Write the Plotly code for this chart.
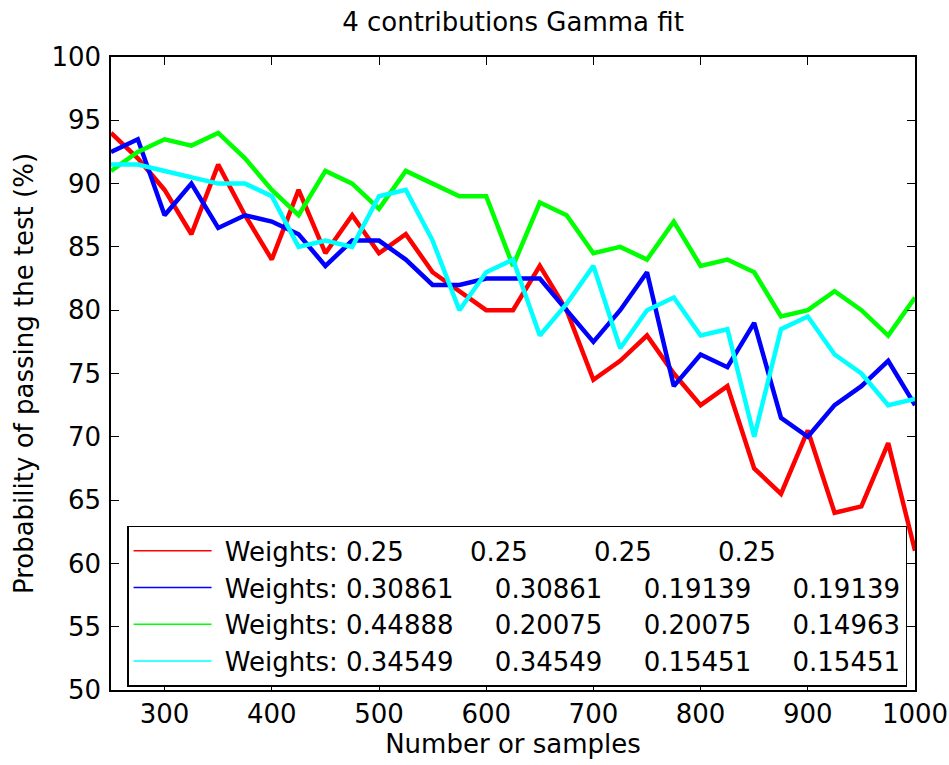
import plotly.graph_objects as go

samples = [250, 275, 300, 325, 350, 375, 400, 425, 450, 475, 500, 525, 550, 575, 600,
           625, 650, 675, 700, 725, 750, 775, 800, 825, 850, 875, 900, 925, 950, 975, 1000]

red = [94, 92, 89.5, 86, 91.5, 87.5, 84, 89.5, 84.5, 87.5, 84.5, 86, 83, 81.5, 80, 80,
       83.5, 80, 74.5, 76, 78, 75, 72.5, 74, 67.5, 65.5, 70.5, 64, 64.5, 69.5, 61]
blue = [92.5, 93.5, 87.5, 90, 86.5, 87.5, 87, 86, 83.5, 85.5, 85.5, 84, 82, 82, 82.5, 82.5,
        82.5, 80, 77.5, 80, 83, 74, 76.5, 75.5, 79, 71.5, 70, 72.5, 74, 76, 72.5]
green = [91, 92.5, 93.5, 93, 94, 92, 89.5, 87.5, 91, 90, 88, 91, 90, 89, 89, 83.5,
         88.5, 87.5, 84.5, 85, 84, 87, 83.5, 84, 83, 79.5, 80, 81.5, 80, 78, 81]
cyan = [91.5, 91.5, 91, 90.5, 90, 90, 89, 85, 85.5, 85, 89, 89.5, 85.5, 80, 83, 84,
        78, 80.5, 83.5, 77, 80, 81, 78, 78.5, 70, 78.5, 79.5, 76.5, 75, 72.5, 73]

weights = [
    ["0.25", "0.25", "0.25", "0.25"],
    ["0.30861", "0.30861", "0.19139", "0.19139"],
    ["0.44888", "0.20075", "0.20075", "0.14963"],
    ["0.34549", "0.34549", "0.15451", "0.15451"],
]
series = [red, blue, green, cyan]
colors = ["#FF0000", "#0000FF", "#00FF00", "#00FFFF"]

x_ticks = [300, 400, 500, 600, 700, 800, 900, 1000]
y_ticks = [50, 55, 60, 65, 70, 75, 80, 85, 90, 95, 100]

FONT = "DejaVu Sans"
FS = 26
NB = "\u00a0"


def label(ws):
    gap = NB * (8 if len(ws[0]) == 4 else 5)
    return NB + "Weights:" + NB + ws[0] + gap + ws[1] + gap + ws[2] + gap + ws[3]


fig = go.Figure()
for ys, c in zip(series, colors):
    fig.add_trace(go.Scatter(x=samples, y=ys, mode="lines",
                             line=dict(color=c, width=4.5), showlegend=False))
for ws, c in zip(weights, colors):
    fig.add_trace(go.Scatter(x=[None], y=[None], mode="lines",
                             line=dict(color=c, width=1.5), name=label(ws)))

axis_common = dict(showline=True, linecolor="black", linewidth=1.5, mirror="allticks",
                   ticks="inside", ticklen=8, tickcolor="black", tickwidth=1,
                   showgrid=False, zeroline=False, automargin=False,
                   tickfont=dict(family=FONT, size=FS, color="black"))

fig.update_layout(
    width=949, height=765,
    margin=dict(l=111, r=34, t=57, b=75),
    paper_bgcolor="white", plot_bgcolor="white",
    font=dict(family=FONT, size=FS, color="black"),
    title=dict(text="4 contributions Gamma fit", x=0.5, xref="paper", xanchor="center",
               y=0.971, yanchor="middle", font=dict(family=FONT, size=FS, color="black")),
    xaxis=dict(range=[250, 1000], tickvals=x_ticks, ticktext=[str(v) for v in x_ticks],
               title=dict(text="Number or samples", standoff=0,
                          font=dict(family=FONT, size=FS, color="black")),
               **axis_common),
    yaxis=dict(range=[50, 100], tickvals=y_ticks, ticktext=[str(v) for v in y_ticks],
               ticklabelstandoff=3,
               title=dict(text="Probability of passing the test (%)", standoff=10,
                          font=dict(family=FONT, size=FS, color="black")),
               **axis_common),
    legend=dict(x=0.02, y=0.2595, xanchor="left", yanchor="top",
                bgcolor="white", bordercolor="black", borderwidth=1.5,
                itemwidth=78, font=dict(family=FONT, size=FS, color="black"),
                tracegroupgap=0),
)

fig.write_html("out.html")
